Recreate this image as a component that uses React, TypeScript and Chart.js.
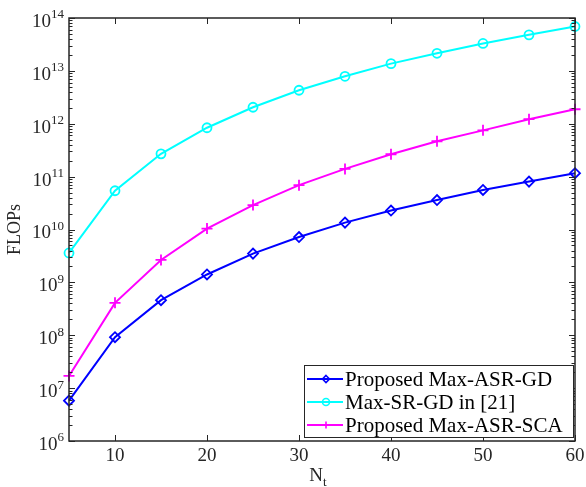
import React, { useEffect, useRef } from "react";
import { Chart, registerables } from "chart.js";

Chart.register(...registerables);

const ntValues = [5, 10, 15, 20, 25, 30, 35, 40, 45, 50, 55, 60];
const gdFlops = [5.8e6, 9.2e7, 4.6e8, 1.41e9, 3.5e9, 7.2e9, 1.35e10, 2.28e10, 3.6e10, 5.6e10, 8.05e10, 1.16e11];
const srFlops = [3.6e9, 5.4e10, 2.7e11, 8.4e11, 2.05e12, 4.3e12, 7.9e12, 1.37e13, 2.15e13, 3.3e13, 4.8e13, 6.9e13];
const scaFlops = [1.7e7, 4.1e8, 2.66e9, 1.04e10, 2.9e10, 6.9e10, 1.4e11, 2.65e11, 4.67e11, 7.5e11, 1.22e12, 1.88e12];
const seriesLabels = ["Proposed Max-ASR-GD", "Max-SR-GD in [21]", "Proposed Max-ASR-SCA"];
const xTickValues = [10, 20, 30, 40, 50, 60];
const yExponents = [6, 7, 8, 9, 10, 11, 12, 13, 14];

const FONT = '"Liberation Serif", "Times New Roman", serif';
const AXIS_COLOR = "#262626";

function drawMarker(ctx: CanvasRenderingContext2D, style: string, x: number, y: number, r: number) {
  ctx.beginPath();
  if (style === "rectRot") {
    ctx.moveTo(x, y - r);
    ctx.lineTo(x + r, y);
    ctx.lineTo(x, y + r);
    ctx.lineTo(x - r, y);
    ctx.closePath();
  } else if (style === "circle") {
    ctx.arc(x, y, r, 0, Math.PI * 2);
  } else {
    ctx.moveTo(x - r, y);
    ctx.lineTo(x + r, y);
    ctx.moveTo(x, y - r);
    ctx.lineTo(x, y + r);
  }
  ctx.stroke();
}

const matlabAxes = {
  id: "matlabAxes",
  afterDraw(chart: any) {
    const { ctx, chartArea: a, scales } = chart;
    const xs = scales.x;
    const ys = scales.y;
    ctx.save();
    ctx.strokeStyle = AXIS_COLOR;
    ctx.lineWidth = 1;
    ctx.beginPath();
    for (const v of xTickValues) {
      const p = Math.round(xs.getPixelForValue(v)) + 0.5;
      ctx.moveTo(p, a.bottom);
      ctx.lineTo(p, a.bottom - 6);
      ctx.moveTo(p, a.top);
      ctx.lineTo(p, a.top + 6);
    }
    for (let i = 0; i < yExponents.length; i++) {
      const e = yExponents[i];
      const p = Math.round(ys.getPixelForValue(Math.pow(10, e))) + 0.5;
      ctx.moveTo(a.left, p);
      ctx.lineTo(a.left + 6, p);
      ctx.moveTo(a.right, p);
      ctx.lineTo(a.right - 6, p);
      if (i < yExponents.length - 1) {
        for (let m = 2; m <= 9; m++) {
          const q = Math.round(ys.getPixelForValue(m * Math.pow(10, e))) + 0.5;
          ctx.moveTo(a.left, q);
          ctx.lineTo(a.left + 3.5, q);
          ctx.moveTo(a.right, q);
          ctx.lineTo(a.right - 3.5, q);
        }
      }
    }
    ctx.stroke();
    ctx.lineWidth = 1.5;
    ctx.strokeRect(a.left, a.top, a.right - a.left, a.bottom - a.top);

    // x tick labels
    ctx.fillStyle = AXIS_COLOR;
    ctx.font = `19px ${FONT}`;
    ctx.textAlign = "center";
    ctx.textBaseline = "middle";
    for (const v of xTickValues) {
      ctx.fillText(String(v), xs.getPixelForValue(v), a.bottom + 15);
    }
    // y tick labels
    for (const e of yExponents) {
      const p = ys.getPixelForValue(Math.pow(10, e));
      ctx.font = `13px ${FONT}`;
      const expText = String(e);
      const ew = ctx.measureText(expText).width;
      const rightEdge = a.left - 5;
      ctx.textAlign = "left";
      ctx.fillText(expText, rightEdge - ew, p - 3);
      ctx.font = `19px ${FONT}`;
      ctx.textAlign = "right";
      ctx.fillText("10", rightEdge - ew, p + 4);
    }
    // x title N_t
    ctx.font = `19px ${FONT}`;
    const nW = ctx.measureText("N").width;
    ctx.font = `13px ${FONT}`;
    const tW = ctx.measureText("t").width;
    const cx = (a.left + a.right) / 2 - 4;
    const startX = cx - (nW + tW) / 2;
    ctx.textAlign = "left";
    ctx.font = `19px ${FONT}`;
    ctx.fillText("N", startX, a.bottom + 35);
    ctx.font = `13px ${FONT}`;
    ctx.fillText("t", startX + nW, a.bottom + 42);
    // y title
    ctx.save();
    ctx.translate(15, (a.top + a.bottom) / 2);
    ctx.rotate(-Math.PI / 2);
    ctx.textAlign = "center";
    ctx.font = `18px ${FONT}`;
    ctx.fillText("FLOPs", 0, 0);
    ctx.restore();

    // legend
    const lx = 304, ly = 365, lw = 269, lh = 72;
    ctx.fillStyle = "#ffffff";
    ctx.fillRect(lx, ly, lw, lh);
    ctx.lineWidth = 1;
    ctx.strokeStyle = AXIS_COLOR;
    ctx.strokeRect(lx + 0.5, ly + 0.5, lw, lh);
    chart.data.datasets.forEach((ds: any, i: number) => {
      const ry = ly + 14 + i * 23;
      ctx.strokeStyle = ds.borderColor;
      ctx.lineWidth = 2;
      ctx.beginPath();
      ctx.moveTo(lx + 3, ry);
      ctx.lineTo(lx + 39, ry);
      ctx.stroke();
      ctx.lineWidth = 1.6;
      drawMarker(ctx, ds.pointStyle, lx + 22, ry, 3.5);
      ctx.fillStyle = "#000000";
      ctx.font = `21px ${FONT}`;
      ctx.textAlign = "left";
      ctx.textBaseline = "middle";
      ctx.fillText(ds.label, lx + 41, ry + 1);
    });
    ctx.restore();
  },
};

export default function App() {
  const canvasRef = useRef<HTMLCanvasElement | null>(null);

  useEffect(() => {
    document.body.style.margin = "0";
    const canvas = canvasRef.current;
    if (!canvas) return;
    const mk = (vals: number[]) => ntValues.map((x, i) => ({ x, y: vals[i] }));
    const chart = new Chart(canvas, {
      type: "line",
      data: {
        datasets: [
          {
            label: seriesLabels[0],
            data: mk(gdFlops),
            borderColor: "#0000ff",
            backgroundColor: "rgba(0,0,0,0)",
            pointBackgroundColor: "rgba(0,0,0,0)",
            pointBorderColor: "#0000ff",
            pointStyle: "rectRot",
            pointRadius: 5,
            pointBorderWidth: 1.8,
            borderWidth: 2,
            clip: false as any,
          },
          {
            label: seriesLabels[1],
            data: mk(srFlops),
            borderColor: "#00ffff",
            backgroundColor: "rgba(0,0,0,0)",
            pointBackgroundColor: "rgba(0,0,0,0)",
            pointBorderColor: "#00ffff",
            pointStyle: "circle",
            pointRadius: 4.5,
            pointBorderWidth: 1.8,
            borderWidth: 2,
            clip: false as any,
          },
          {
            label: seriesLabels[2],
            data: mk(scaFlops),
            borderColor: "#ff00ff",
            backgroundColor: "rgba(0,0,0,0)",
            pointBackgroundColor: "rgba(0,0,0,0)",
            pointBorderColor: "#ff00ff",
            pointStyle: "cross",
            pointRadius: 5.5,
            pointBorderWidth: 1.8,
            borderWidth: 2,
            clip: false as any,
          },
        ],
      },
      options: {
        responsive: false,
        animation: false,
        layout: { padding: { left: 69, right: 11, top: 18, bottom: 46 } },
        plugins: { legend: { display: false }, tooltip: { enabled: false } },
        scales: {
          x: { type: "linear", min: 5, max: 60, display: false },
          y: { type: "logarithmic", min: 1e6, max: 1e14, display: false },
        },
      },
      plugins: [matlabAxes],
    });
    return () => chart.destroy();
  }, []);

  return (
    <div style={{ width: 586, height: 487 }}>
      <canvas ref={canvasRef} width={586} height={487} />
    </div>
  );
}
